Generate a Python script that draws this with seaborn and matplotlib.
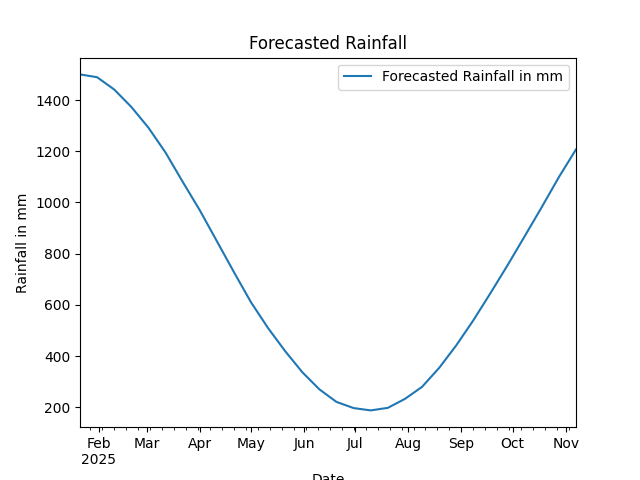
import matplotlib
matplotlib.use("Agg")
import matplotlib.pyplot as plt
import matplotlib.dates as mdates
from matplotlib.ticker import FuncFormatter
import numpy as np
import pandas as pd
import seaborn as sns

# ---- data ----
dates = pd.date_range(start="2025-01-21", periods=30, freq="10D")
rainfall_mm = [1500, 1489, 1441, 1373, 1292, 1195, 1081, 970, 849, 728,
               610, 509, 419, 337, 270, 221, 197, 188, 198, 233,
               280, 354, 442, 540, 646, 755, 868, 982, 1099, 1207]
series_label = "Forecasted Rainfall in mm"
title = "Forecasted Rainfall"
x_label = "Date"
y_label = "Rainfall in mm"

df = pd.DataFrame({"Date": dates, "Rainfall": rainfall_mm})

fig, ax = plt.subplots(figsize=(6.4, 4.8), dpi=100)
sns.lineplot(data=df, x="Date", y="Rainfall", ax=ax, label=series_label,
             color="#1f77b4", linewidth=1.5)

ax.set_xlim(dates[0], dates[-1])

ax.xaxis.set_major_locator(mdates.MonthLocator())
ax.xaxis.set_minor_locator(mdates.WeekdayLocator(byweekday=mdates.MO))


def fmt(x, pos):
    d = mdates.num2date(x)
    locs = ax.xaxis.get_majorticklocs()
    lo, hi = ax.get_xlim()
    visible = [l for l in locs if lo <= l <= hi]
    if visible and abs(x - visible[0]) < 1e-6:
        return d.strftime("%b\n%Y")
    return d.strftime("%b")


ax.xaxis.set_major_formatter(FuncFormatter(fmt))
ax.xaxis.set_minor_formatter(FuncFormatter(lambda x, pos: ""))

ax.set_title(title)
ax.set_xlabel(x_label)
ax.set_ylabel(y_label)
ax.legend(loc="upper right")

fig.savefig("out.png", dpi=100)
